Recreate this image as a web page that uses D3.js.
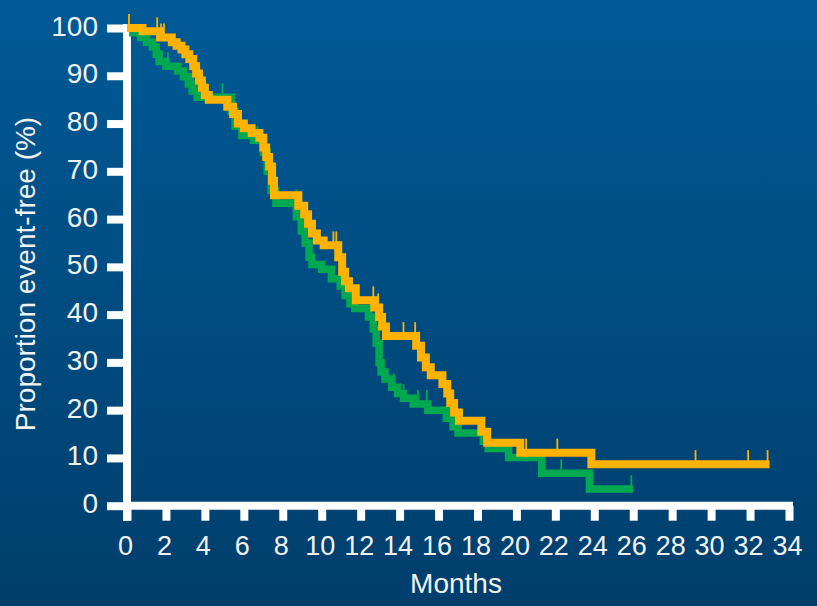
<!DOCTYPE html>
<html>
<head>
<meta charset="utf-8">
<script src="https://cdnjs.cloudflare.com/ajax/libs/d3/7.8.5/d3.min.js"></script>
<style>
  html, body { margin: 0; padding: 0; background: #00487d; }
  #my_dataviz { width: 817px; height: 606px; }
  text { font-family: "Liberation Sans", Arial, sans-serif; fill: #f2f2f2; }
</style>
</head>
<body>
<div id="my_dataviz"></div>
<script>
// tick values
var xTicks = [0, 2, 4, 6, 8, 10, 12, 14, 16, 18, 20, 22, 24, 26, 28, 30, 32, 34]
var yTicks = [0, 10, 20, 30, 40, 50, 60, 70, 80, 90, 100]

// green arm: [month, % event-free] steps
var greenSteps = [
  [0, 100], [0.3, 99], [0.7, 98], [1.0, 97], [1.3, 96], [1.5, 94.5], [1.65, 93],
  [2.0, 92], [2.6, 91], [2.9, 89.8], [3.15, 88.3], [3.35, 86.8], [3.6, 85.5],
  [5.35, 82.5], [5.55, 79.5], [5.9, 77.5], [6.5, 76.5],
  [7.0, 74], [7.2, 70], [7.4, 66], [7.65, 63.3], [8.7, 60.5], [8.95, 57.5], [9.15, 55],
  [9.35, 52], [9.5, 50.5], [10.0, 49.5], [10.5, 47.5], [10.95, 46], [11.2, 44],
  [11.45, 42.3], [11.7, 41.3], [12.4, 39.5], [12.65, 37], [12.8, 34], [12.95, 30],
  [13.05, 28], [13.25, 26.5], [13.6, 24.8], [13.9, 23.5], [14.2, 22.5], [14.7, 21.3],
  [15.45, 20], [16.4, 18.3], [16.75, 16.5], [17.0, 15.2], [18.3, 13.5], [18.55, 12],
  [19.6, 10.1], [21.3, 6.8], [23.75, 3.5], [26.0, 3.5]
]
var greenCensor = [
  [2.1, 92], [3.4, 86.8], [3.6, 85.5], [4.9, 85.5], [5.4, 82.5], [6.7, 76.5], [7.2, 70],
  [8.7, 63.3], [11.2, 44], [13.7, 24.8], [14.2, 22.5], [14.95, 21.3], [15.4, 21.3],
  [18.2, 15.2], [22.3, 6.8], [25.9, 3.5]
]

// orange arm
var orangeSteps = [
  [0, 100], [0.8, 99.3], [1.7, 98], [2.3, 97], [2.55, 96.3], [2.8, 95.5], [3.0, 94.5],
  [3.2, 93.5], [3.4, 92], [3.55, 90.5], [3.7, 89], [3.85, 87.5], [4.0, 86], [4.2, 85],
  [5.15, 83.5], [5.45, 82], [5.7, 80], [6.0, 79],
  [6.4, 78], [6.8, 77], [7.0, 75], [7.15, 73], [7.3, 71], [7.45, 68], [7.55, 65],
  [8.8, 62.8], [9.1, 61], [9.3, 59], [9.5, 57], [9.75, 55.5], [10.1, 54.5], [10.85, 52],
  [11.05, 49], [11.2, 47], [11.4, 45.5], [11.75, 43], [12.7, 41.5], [12.95, 39.5],
  [13.1, 37.5], [13.3, 35.5], [14.85, 33.5], [15.1, 31], [15.35, 29], [15.6, 27.3],
  [16.2, 25.5], [16.45, 23.5], [16.6, 21.5], [16.8, 19.5], [17.05, 17.8], [18.2, 15.5],
  [18.5, 13.2], [20.2, 11.1], [23.85, 8.7], [33.0, 8.7]
]
var orangeCensor = [
  [0.1, 100], [1.55, 99.3], [1.75, 98], [1.9, 98], [10.6, 54.5], [10.75, 54.5],
  [12.65, 43], [12.9, 41.5], [14.2, 35.5], [14.8, 35.5], [15.0, 33.5], [20.5, 11.1],
  [22.1, 11.1], [29.2, 8.7], [31.9, 8.7], [32.9, 8.7]
]

var margin = { top: 28, left: 127 },
  width = 662,
  height = 477.7;

var svg = d3.select("#my_dataviz")
  .append("svg")
  .attr("width", 817)
  .attr("height", 606)

// blue background gradient
var grad = svg.append("defs").append("linearGradient")
  .attr("id", "bg")
  .attr("x1", 0).attr("y1", 0).attr("x2", 0).attr("y2", 1)
grad.append("stop").attr("offset", "0%").attr("stop-color", "#005a96")
grad.append("stop").attr("offset", "100%").attr("stop-color", "#003e6c")

svg.append("rect")
  .attr("width", 817)
  .attr("height", 606)
  .style("fill", "url(#bg)")

var g = svg.append("g")
  .attr("transform", "translate(" + margin.left + "," + margin.top + ")")

var x = d3.scaleLinear().domain([0, 34]).range([0, width])
var y = d3.scaleLinear().domain([0, 100]).range([height, 0])

// Y axis
var yAxis = g.append("g")
  .call(d3.axisLeft(y).tickValues(yTicks).tickSize(20).tickPadding(9))
yAxis.select(".domain").remove()
yAxis.selectAll(".tick text").attr("dy", "0.25em").style("font-size", "28px")

// X axis
var xAxis = g.append("g")
  .attr("transform", "translate(0," + height + ")")
  .call(d3.axisBottom(x).tickValues(xTicks).tickSize(15).tickPadding(15))
xAxis.select(".domain").remove()
xAxis.selectAll(".tick text").attr("dx", "-2px").style("font-size", "27px")

g.selectAll(".tick line").attr("stroke", "white").attr("stroke-width", 8)
g.selectAll(".tick text").style("fill", "#f2f2f2")

// axis lines
g.append("line")
  .attr("x1", 0).attr("x2", 0)
  .attr("y1", -4).attr("y2", height + 15)
  .attr("stroke", "white").attr("stroke-width", 8)
g.append("line")
  .attr("x1", 0).attr("x2", x(34) + 4)
  .attr("y1", height).attr("y2", height)
  .attr("stroke", "white").attr("stroke-width", 8)

// labels
svg.append("text")
  .attr("text-anchor", "middle")
  .attr("x", margin.left + x(17) - 2)
  .attr("y", 593)
  .style("font-size", "28px")
  .text("Months")

svg.append("text")
  .attr("text-anchor", "middle")
  .attr("transform", "translate(35,274) rotate(-90)")
  .style("font-size", "28px")
  .text("Proportion event-free (%)")

// survival curves
var line = d3.line()
  .curve(d3.curveStepAfter)
  .x(function (d) { return x(d[0]) })
  .y(function (d) { return y(d[1]) })

function drawArm(steps, censor, color, w) {
  g.append("path")
    .datum(steps)
    .attr("d", line)
    .attr("fill", "none")
    .attr("stroke", color)
    .attr("stroke-width", w)
    .attr("stroke-linejoin", "miter")

  g.append("g")
    .selectAll("line")
    .data(censor)
    .enter()
    .append("line")
    .attr("x1", function (d) { return x(d[0]) })
    .attr("x2", function (d) { return x(d[0]) })
    .attr("y1", function (d) { return y(d[1]) })
    .attr("y2", function (d) { return y(d[1]) - 14 })
    .attr("stroke", color)
    .attr("stroke-width", 1.8)
}

drawArm(greenSteps, greenCensor, "#00a84f", 7.5)
drawArm(orangeSteps, orangeCensor, "#ffb200", 8)
</script>
</body>
</html>
